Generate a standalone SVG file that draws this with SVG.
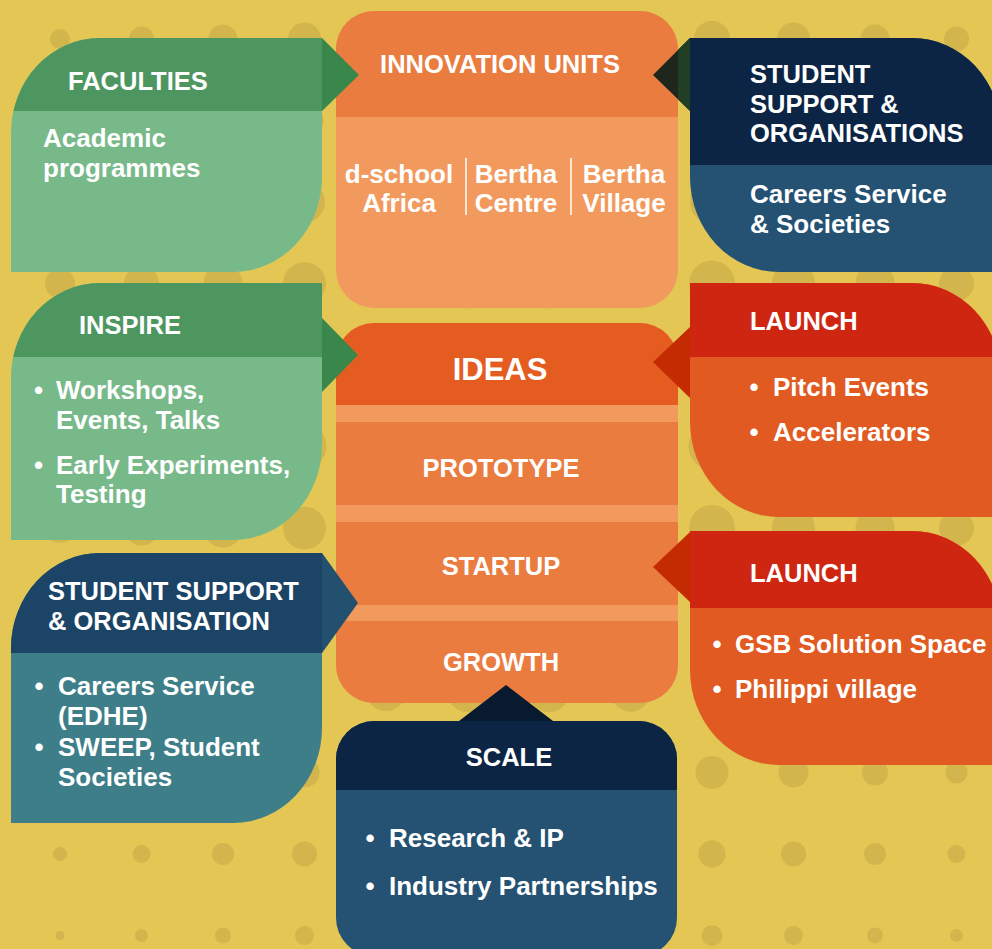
<svg xmlns="http://www.w3.org/2000/svg" width="992" height="949" viewBox="0 0 992 949">
<defs>
<style>
text { font-family: "Liberation Sans", Arial, sans-serif; font-weight: bold; fill: #ffffff; }
.h { font-size: 25.5px; }
.b { font-size: 26px; }
.big { font-size: 31px; }
.c { text-anchor: middle; }
.dot { fill: #D3B54D; }
.sep { stroke: #ffffff; stroke-width: 1.5; }
</style>
<clipPath id="cpFac"><path d="M11,272 L11,133 A89 95 0 0 1 100,38 L322,38 L322,177 A89 95 0 0 1 233,272 Z"/></clipPath>
<clipPath id="cpIns"><path d="M11,540 L11,378 A89 95 0 0 1 100,283 L322,283 L322,445 A89 95 0 0 1 233,540 Z"/></clipPath>
<clipPath id="cpSsl"><path d="M11,823 L11,648 A89 95 0 0 1 100,553 L322,553 L322,728 A89 95 0 0 1 233,823 Z"/></clipPath>
<clipPath id="cpSsr"><path d="M690,38 L912,38 A89 95 0 0 1 1001,133 L1001,272 L779,272 A89 95 0 0 1 690,177 Z"/></clipPath>
<clipPath id="cpL1"><path d="M690,283 L912,283 A89 95 0 0 1 1001,378 L1001,517 L779,517 A89 95 0 0 1 690,422 Z"/></clipPath>
<clipPath id="cpL2"><path d="M690,531 L912,531 A89 95 0 0 1 1001,626 L1001,765 L779,765 A89 95 0 0 1 690,670 Z"/></clipPath>
<clipPath id="cpInn"><rect x="336" y="11" width="342" height="297" rx="38" ry="38"/></clipPath>
<clipPath id="cpStk"><rect x="336" y="323" width="342" height="380" rx="38" ry="38"/></clipPath>
<clipPath id="cpScl"><rect x="336" y="721" width="341" height="235" rx="38" ry="38"/></clipPath>
</defs>

<rect x="0" y="0" width="992" height="949" fill="#E3C653"/>

<g id="dots">
<circle class="dot" cx="60" cy="39" r="10"/><circle class="dot" cx="141.5" cy="39" r="12.5"/><circle class="dot" cx="223" cy="39" r="14.5"/><circle class="dot" cx="304.5" cy="39" r="16.5"/><circle class="dot" cx="386" cy="39" r="19"/><circle class="dot" cx="467.5" cy="39" r="20"/><circle class="dot" cx="549" cy="39" r="20"/><circle class="dot" cx="630.5" cy="39" r="19.5"/><circle class="dot" cx="712" cy="39" r="18"/><circle class="dot" cx="793.5" cy="39" r="16.5"/><circle class="dot" cx="875" cy="39" r="14.5"/><circle class="dot" cx="956.5" cy="39" r="12.5"/>
<circle class="dot" cx="60" cy="120.5" r="12.5"/><circle class="dot" cx="141.5" cy="120.5" r="15"/><circle class="dot" cx="223" cy="120.5" r="17"/><circle class="dot" cx="304.5" cy="120.5" r="19"/><circle class="dot" cx="386" cy="120.5" r="21.5"/><circle class="dot" cx="467.5" cy="120.5" r="22.5"/><circle class="dot" cx="549" cy="120.5" r="22.5"/><circle class="dot" cx="630.5" cy="120.5" r="22"/><circle class="dot" cx="712" cy="120.5" r="20.5"/><circle class="dot" cx="793.5" cy="120.5" r="19"/><circle class="dot" cx="875" cy="120.5" r="17"/><circle class="dot" cx="956.5" cy="120.5" r="15"/>
<circle class="dot" cx="60" cy="202" r="14"/><circle class="dot" cx="141.5" cy="202" r="16.5"/><circle class="dot" cx="223" cy="202" r="18.5"/><circle class="dot" cx="304.5" cy="202" r="20.5"/><circle class="dot" cx="386" cy="202" r="23"/><circle class="dot" cx="467.5" cy="202" r="24"/><circle class="dot" cx="549" cy="202" r="24"/><circle class="dot" cx="630.5" cy="202" r="23.5"/><circle class="dot" cx="712" cy="202" r="22"/><circle class="dot" cx="793.5" cy="202" r="20.5"/><circle class="dot" cx="875" cy="202" r="18.5"/><circle class="dot" cx="956.5" cy="202" r="16.5"/>
<circle class="dot" cx="60" cy="283.5" r="15"/><circle class="dot" cx="141.5" cy="283.5" r="17.5"/><circle class="dot" cx="223" cy="283.5" r="19.5"/><circle class="dot" cx="304.5" cy="283.5" r="21.5"/><circle class="dot" cx="386" cy="283.5" r="24"/><circle class="dot" cx="467.5" cy="283.5" r="25"/><circle class="dot" cx="549" cy="283.5" r="25"/><circle class="dot" cx="630.5" cy="283.5" r="24.5"/><circle class="dot" cx="712" cy="283.5" r="23"/><circle class="dot" cx="793.5" cy="283.5" r="21.5"/><circle class="dot" cx="875" cy="283.5" r="19.5"/><circle class="dot" cx="956.5" cy="283.5" r="17.5"/>
<circle class="dot" cx="60" cy="365" r="15.5"/><circle class="dot" cx="141.5" cy="365" r="18"/><circle class="dot" cx="223" cy="365" r="20"/><circle class="dot" cx="304.5" cy="365" r="22"/><circle class="dot" cx="386" cy="365" r="24.5"/><circle class="dot" cx="467.5" cy="365" r="25.5"/><circle class="dot" cx="549" cy="365" r="25.5"/><circle class="dot" cx="630.5" cy="365" r="25"/><circle class="dot" cx="712" cy="365" r="23.5"/><circle class="dot" cx="793.5" cy="365" r="22"/><circle class="dot" cx="875" cy="365" r="20"/><circle class="dot" cx="956.5" cy="365" r="18"/>
<circle class="dot" cx="60" cy="446.5" r="15.5"/><circle class="dot" cx="141.5" cy="446.5" r="18"/><circle class="dot" cx="223" cy="446.5" r="20"/><circle class="dot" cx="304.5" cy="446.5" r="22"/><circle class="dot" cx="386" cy="446.5" r="24.5"/><circle class="dot" cx="467.5" cy="446.5" r="25.5"/><circle class="dot" cx="549" cy="446.5" r="25.5"/><circle class="dot" cx="630.5" cy="446.5" r="25"/><circle class="dot" cx="712" cy="446.5" r="23.5"/><circle class="dot" cx="793.5" cy="446.5" r="22"/><circle class="dot" cx="875" cy="446.5" r="20"/><circle class="dot" cx="956.5" cy="446.5" r="18"/>
<circle class="dot" cx="60" cy="528" r="15"/><circle class="dot" cx="141.5" cy="528" r="17.5"/><circle class="dot" cx="223" cy="528" r="19.5"/><circle class="dot" cx="304.5" cy="528" r="21.5"/><circle class="dot" cx="386" cy="528" r="24"/><circle class="dot" cx="467.5" cy="528" r="25"/><circle class="dot" cx="549" cy="528" r="25"/><circle class="dot" cx="630.5" cy="528" r="24.5"/><circle class="dot" cx="712" cy="528" r="23"/><circle class="dot" cx="793.5" cy="528" r="21.5"/><circle class="dot" cx="875" cy="528" r="19.5"/><circle class="dot" cx="956.5" cy="528" r="17.5"/>
<circle class="dot" cx="60" cy="609.5" r="13.5"/><circle class="dot" cx="141.5" cy="609.5" r="16"/><circle class="dot" cx="223" cy="609.5" r="18"/><circle class="dot" cx="304.5" cy="609.5" r="20"/><circle class="dot" cx="386" cy="609.5" r="22.5"/><circle class="dot" cx="467.5" cy="609.5" r="23.5"/><circle class="dot" cx="549" cy="609.5" r="23.5"/><circle class="dot" cx="630.5" cy="609.5" r="23"/><circle class="dot" cx="712" cy="609.5" r="21.5"/><circle class="dot" cx="793.5" cy="609.5" r="20"/><circle class="dot" cx="875" cy="609.5" r="18"/><circle class="dot" cx="956.5" cy="609.5" r="16"/>
<circle class="dot" cx="60" cy="691" r="11"/><circle class="dot" cx="141.5" cy="691" r="13.5"/><circle class="dot" cx="223" cy="691" r="15.5"/><circle class="dot" cx="304.5" cy="691" r="17.5"/><circle class="dot" cx="386" cy="691" r="20"/><circle class="dot" cx="467.5" cy="691" r="21"/><circle class="dot" cx="549" cy="691" r="21"/><circle class="dot" cx="630.5" cy="691" r="20.5"/><circle class="dot" cx="712" cy="691" r="19"/><circle class="dot" cx="793.5" cy="691" r="17.5"/><circle class="dot" cx="875" cy="691" r="15.5"/><circle class="dot" cx="956.5" cy="691" r="13.5"/>
<circle class="dot" cx="60" cy="772.5" r="8.5"/><circle class="dot" cx="141.5" cy="772.5" r="11"/><circle class="dot" cx="223" cy="772.5" r="13"/><circle class="dot" cx="304.5" cy="772.5" r="15"/><circle class="dot" cx="386" cy="772.5" r="17.5"/><circle class="dot" cx="467.5" cy="772.5" r="18.5"/><circle class="dot" cx="549" cy="772.5" r="18.5"/><circle class="dot" cx="630.5" cy="772.5" r="18"/><circle class="dot" cx="712" cy="772.5" r="16.5"/><circle class="dot" cx="793.5" cy="772.5" r="15"/><circle class="dot" cx="875" cy="772.5" r="13"/><circle class="dot" cx="956.5" cy="772.5" r="11"/>
<circle class="dot" cx="60" cy="854" r="7"/><circle class="dot" cx="141.5" cy="854" r="9"/><circle class="dot" cx="223" cy="854" r="11"/><circle class="dot" cx="304.5" cy="854" r="12.5"/><circle class="dot" cx="386" cy="854" r="15.5"/><circle class="dot" cx="467.5" cy="854" r="16.5"/><circle class="dot" cx="549" cy="854" r="16.5"/><circle class="dot" cx="630.5" cy="854" r="16"/><circle class="dot" cx="712" cy="854" r="13.5"/><circle class="dot" cx="793.5" cy="854" r="12.5"/><circle class="dot" cx="875" cy="854" r="11"/><circle class="dot" cx="956.5" cy="854" r="9"/>
<circle class="dot" cx="60" cy="935.5" r="4.5"/><circle class="dot" cx="141.5" cy="935.5" r="6.5"/><circle class="dot" cx="223" cy="935.5" r="8"/><circle class="dot" cx="304.5" cy="935.5" r="9.5"/><circle class="dot" cx="386" cy="935.5" r="13"/><circle class="dot" cx="467.5" cy="935.5" r="14"/><circle class="dot" cx="549" cy="935.5" r="14"/><circle class="dot" cx="630.5" cy="935.5" r="13.5"/><circle class="dot" cx="712" cy="935.5" r="10.5"/><circle class="dot" cx="793.5" cy="935.5" r="9.5"/><circle class="dot" cx="875" cy="935.5" r="8"/><circle class="dot" cx="956.5" cy="935.5" r="6.5"/>
</g>

<g id="faculties">
<g clip-path="url(#cpFac)">
<rect x="0" y="38" width="330" height="240" fill="#78B98A"/>
<rect x="0" y="38" width="330" height="73" fill="#4E9660"/>
</g>
<text class="h" x="68" y="90">FACULTIES</text>
<text class="b" x="43" y="147">Academic</text>
<text class="b" x="43" y="177">programmes</text>
</g>

<g id="innovation-units">
<g clip-path="url(#cpInn)">
<rect x="336" y="11" width="342" height="297" fill="#F29A5E"/>
<rect x="336" y="11" width="342" height="106" fill="#EA7C40"/>
</g>
<text class="h c" x="500" y="73">INNOVATION UNITS</text>
<text class="b c" x="399" y="183">d-school</text>
<text class="b c" x="399" y="212">Africa</text>
<text class="b c" x="516" y="183">Bertha</text>
<text class="b c" x="516" y="212">Centre</text>
<text class="b c" x="624" y="183">Bertha</text>
<text class="b c" x="624" y="212">Village</text>
<line class="sep" x1="466" y1="158" x2="466" y2="215"/>
<line class="sep" x1="571" y1="158" x2="571" y2="215"/>
</g>

<g id="student-support-right">
<g clip-path="url(#cpSsr)">
<rect x="685" y="38" width="320" height="240" fill="#255273"/>
<rect x="685" y="38" width="320" height="127" fill="#0C2544"/>
</g>
<text class="h" x="750" y="83">STUDENT</text>
<text class="h" x="750" y="113">SUPPORT &amp;</text>
<text class="h" x="750" y="142">ORGANISATIONS</text>
<text class="b" x="750" y="203">Careers Service</text>
<text class="b" x="750" y="233">&amp; Societies</text>
</g>

<g id="inspire">
<g clip-path="url(#cpIns)">
<rect x="0" y="283" width="330" height="260" fill="#78B98A"/>
<rect x="0" y="283" width="330" height="74" fill="#4E9660"/>
</g>
<text class="h" x="79" y="334">INSPIRE</text>
<text class="b c" x="38.5" y="399">•</text>
<text class="b" x="56" y="399">Workshops,</text>
<text class="b" x="56" y="429">Events, Talks</text>
<text class="b c" x="38.5" y="474">•</text>
<text class="b" x="56" y="474">Early Experiments,</text>
<text class="b" x="56" y="503">Testing</text>
</g>

<g id="stages">
<g clip-path="url(#cpStk)">
<rect x="336" y="323" width="342" height="380" fill="#F29A5E"/>
<rect x="336" y="323" width="342" height="82" fill="#E55C21"/>
<rect x="336" y="422" width="342" height="83" fill="#EA7C40"/>
<rect x="336" y="522" width="342" height="83" fill="#EA7C40"/>
<rect x="336" y="621" width="342" height="82" fill="#EA7C40"/>
</g>
<text class="big c" x="500" y="380">IDEAS</text>
<text class="h c" x="501" y="477">PROTOTYPE</text>
<text class="h c" x="501" y="575">STARTUP</text>
<text class="h c" x="501" y="671">GROWTH</text>
</g>

<g id="launch-1">
<g clip-path="url(#cpL1)">
<rect x="685" y="283" width="320" height="240" fill="#E05A22"/>
<rect x="685" y="283" width="320" height="74" fill="#CF2611"/>
</g>
<text class="h" x="750" y="330">LAUNCH</text>
<text class="b c" x="754" y="396">•</text>
<text class="b" x="773" y="396">Pitch Events</text>
<text class="b c" x="754" y="441">•</text>
<text class="b" x="773" y="441">Accelerators</text>
</g>

<g id="student-support-left">
<g clip-path="url(#cpSsl)">
<rect x="0" y="553" width="330" height="275" fill="#3D7E89"/>
<rect x="0" y="553" width="330" height="100" fill="#1B4466"/>
</g>
<text class="h" x="48" y="600">STUDENT SUPPORT</text>
<text class="h" x="48" y="630">&amp; ORGANISATION</text>
<text class="b c" x="39" y="695">•</text>
<text class="b" x="58" y="695">Careers Service</text>
<text class="b" x="58" y="725">(EDHE)</text>
<text class="b c" x="39" y="756">•</text>
<text class="b" x="58" y="756">SWEEP, Student</text>
<text class="b" x="58" y="786">Societies</text>
</g>

<g id="launch-2">
<g clip-path="url(#cpL2)">
<rect x="685" y="531" width="320" height="240" fill="#E05A22"/>
<rect x="685" y="531" width="320" height="77" fill="#CF2611"/>
</g>
<text class="h" x="750" y="582">LAUNCH</text>
<text class="b c" x="717" y="653">•</text>
<text class="b" x="735" y="653">GSB Solution Space</text>
<text class="b c" x="717" y="698">•</text>
<text class="b" x="735" y="698">Philippi village</text>
</g>

<g id="scale">
<g clip-path="url(#cpScl)">
<rect x="336" y="721" width="341" height="235" fill="#255273"/>
<rect x="336" y="721" width="341" height="69" fill="#0C2544"/>
</g>
<text class="h c" x="509" y="766">SCALE</text>
<text class="b c" x="370" y="847">•</text>
<text class="b" x="389" y="847">Research &amp; IP</text>
<text class="b c" x="370" y="895">•</text>
<text class="b" x="389" y="895">Industry Partnerships</text>
</g>

<g id="connectors">
<polygon points="322,38 359,75 322,111" fill="#3A874B"/>
<polygon points="690,38 653,75 690,111" fill="#1F271D"/>
<polygon points="678,49.8 690,38 690,111 678,99.2" fill="#223F26"/>
<polygon points="322,318 358,355 322,392" fill="#3A874B"/>
<polygon points="690,327 653,362 690,398" fill="#C42B02"/>
<polygon points="322,553 358,603 322,653" fill="#24506F"/>
<polygon points="690,532 653,567 690,602" fill="#C42B02"/>
<polygon points="459,721 506,685 553,721" fill="#071A30"/>
</g>
</svg>
